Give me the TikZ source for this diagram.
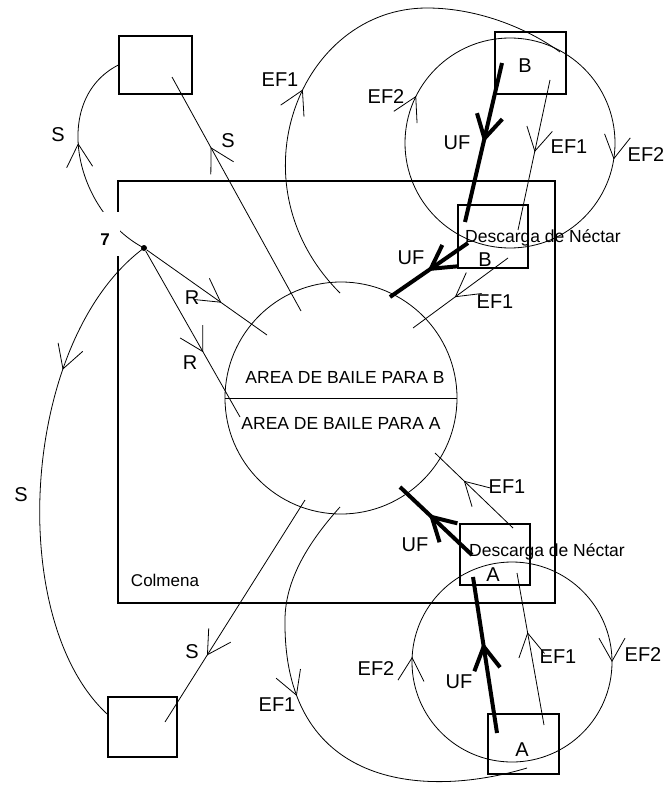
\documentclass[tikz,border=0pt]{standalone}
\usepackage{fontspec}
\setmainfont{Liberation Sans}
\usetikzlibrary{arrows.meta,decorations.markings}

\tikzset{
  punta/.tip={Straight Barb[length=23pt,width=26pt]},
  flecha/.style={postaction={decorate,decoration={markings,
      mark=at position #1 with {\arrow{punta}}}}},
  grueso/.style={line width=4pt},
  caja/.style={draw, line width=1.3pt, inner sep=0pt},
  etiq/.style={font=\fontsize{20}{24}\selectfont, inner sep=0pt}
}

\begin{document}
\begin{tikzpicture}[x=1pt, y=-1pt, line width=0.8pt]
    \useasboundingbox (0,0) rectangle (669,789);

    % ==========================================
    % 1. Colmena y area de baile
    % ==========================================
    \node[caja, minimum width=437pt, minimum height=422pt] (colmena) at (336.5,392) {};
    \node[font=\fontsize{17}{20}\selectfont] (tcolmena) at (165,580) {Colmena};

    \node[circle, draw, minimum size=232pt, inner sep=0pt] (baile) at (341,398) {};
    \draw (baile.west) -- (baile.east);
    \node[font=\fontsize{17.5}{20}\selectfont] (bailaB) at (345,377) {AREA DE BAILE PARA B};
    \node[font=\fontsize{17.5}{20}\selectfont] (bailaA) at (341,423) {AREA DE BAILE PARA A};

    % ==========================================
    % 2. Cajas: fuentes y descarga de nectar
    % ==========================================
    \foreach \n/\x/\y/\w/\h in {cajaSup/155.5/65/73/58, cajaInf/142.5/727/69/60,
        fuenteB/530.5/63/71/62, descB/493/236.5/70/63,
        descA/495/554.5/70/61, fuenteA/523.5/744/71/60}
        \node[caja, minimum width=\w pt, minimum height=\h pt] (\n) at (\x,\y) {};

    \node[etiq] (tB1) at (525,66) {B};
    \node[etiq] (tB2) at (485,260) {B};
    \node[etiq] (tA1) at (493,575) {A};
    \node[etiq] (tA2) at (522,750) {A};
    \node[font=\fontsize{17.5}{20}\selectfont] (dB) at (543,238) {Descarga de Néctar};
    \node[font=\fontsize{17.5}{20}\selectfont] (dA) at (547,552) {Descarga de Néctar};

    % punto de reclutamiento
    \node[circle, fill, inner sep=0pt, minimum size=6pt] (nodo) at (144,248) {};

    % ==========================================
    % 3. Extremos libres de las flechas
    % ==========================================
    \coordinate (s1a) at (301,311);  \coordinate (s1b) at (172,77);
    \coordinate (s2a) at (305,500);  \coordinate (s2b) at (165,722);
    \coordinate (r1) at (267,335);   \coordinate (r2) at (240,417);
    \coordinate (ufB1) at (502,63);  \coordinate (ufB2) at (465,222);
    \coordinate (efB1) at (550,80);  \coordinate (efB2) at (518,230);
    \coordinate (ufB3) at (468,243); \coordinate (ufB4) at (390,297);
    \coordinate (efB3) at (508,258); \coordinate (efB4) at (413,328);
    \coordinate (ufA1) at (497,733); \coordinate (ufA2) at (473,577);
    \coordinate (efA1) at (544,725); \coordinate (efA2) at (517,573);
    \coordinate (ufA3) at (472,555); \coordinate (ufA4) at (400,487);
    \coordinate (efA3) at (513,528); \coordinate (efA4) at (435,453);
    \coordinate (e1a) at (340,293);  \coordinate (e1top) at (427,8);
    \coordinate (e1b) at (560,52);
    \coordinate (e2a) at (340,507);  \coordinate (e2mid) at (285,620);
    \coordinate (e2b) at (527,768);
    \coordinate (cB) at (510,38);    \coordinate (cA) at (512,562);

    % ==========================================
    % 4. Flechas rectas (S, R, EF1) y gruesas (UF)
    % ==========================================
    \foreach \a/\b/\p in {s1a/s1b/0.70, s2a/s2b/0.70, nodo/r1/0.62, nodo/r2/0.61,
        efB1/efB2/0.48, efB3/efB4/0.56, efA1/efA2/0.61, efA3/efA4/0.63}
        \draw[flecha=\p] (\a) -- (\b);

    \foreach \a/\b/\p in {ufB1/ufB2/0.50, ufB3/ufB4/0.52, ufA1/ufA2/0.58, ufA3/ufA4/0.60}
        \draw[grueso, flecha=\p] (\a) -- (\b);

    % ==========================================
    % 5. Curvas S y EF1, ciclos EF2
    % ==========================================
    \draw[flecha=0.58] (nodo.center) .. controls (75,212) and (50,100) .. (cajaSup.west);
    \draw[flecha=0.29] (nodo.center) .. controls (20,340) and (5,620) .. (cajaInf.160);

    \draw[flecha=0.425] (e1a) .. controls (230,183) and (300,8) .. (e1top)
        .. controls (480,8) and (530,30) .. (e1b);
    \draw[flecha=0.435] (e2a) .. controls (315,535) and (285,575) .. (e2mid)
        .. controls (283,785) and (420,800) .. (e2b);

    \draw[flecha=0.275, flecha=0.824] (cB) arc[start angle=-90, end angle=270, radius=105];
    \draw[flecha=0.25, flecha=0.758] (cA) arc[start angle=-90, end angle=270, radius=100];

    % ==========================================
    % 6. Etiquetas de las flechas
    % ==========================================
    \foreach \n/\x/\y/\t in {
        lS1/58/135/S, lS2/228/141/S, lS3/21/495/S, lS4/192/652/S,
        lR1/192/298/R, lR2/190/363/R,
        lEFa/280/80/EF1, lEFb/386/97/EF2, lUFa/457/143/UF,
        lEFc/569/147/EF1, lEFd/646/155/EF2,
        lUFb/411/258/UF, lEFe/495/302/EF1,
        lEFf/507/487/EF1, lUFc/415/545/UF,
        lEFg/376/669/EF2, lUFd/459/682/UF, lEFh/558/657/EF1, lEFi/643/655/EF2,
        lEFj/277/705/EF1}
        \node[etiq] (\n) at (\x,\y) {\t};

    % el 7 tapa el borde de la colmena
    \node[fill=white, inner sep=0pt, minimum width=29pt, text height=33pt, text depth=11pt,
        font=\bfseries\fontsize{17}{17}\selectfont] (siete) at (105,234) {7};

\end{tikzpicture}
\end{document}
